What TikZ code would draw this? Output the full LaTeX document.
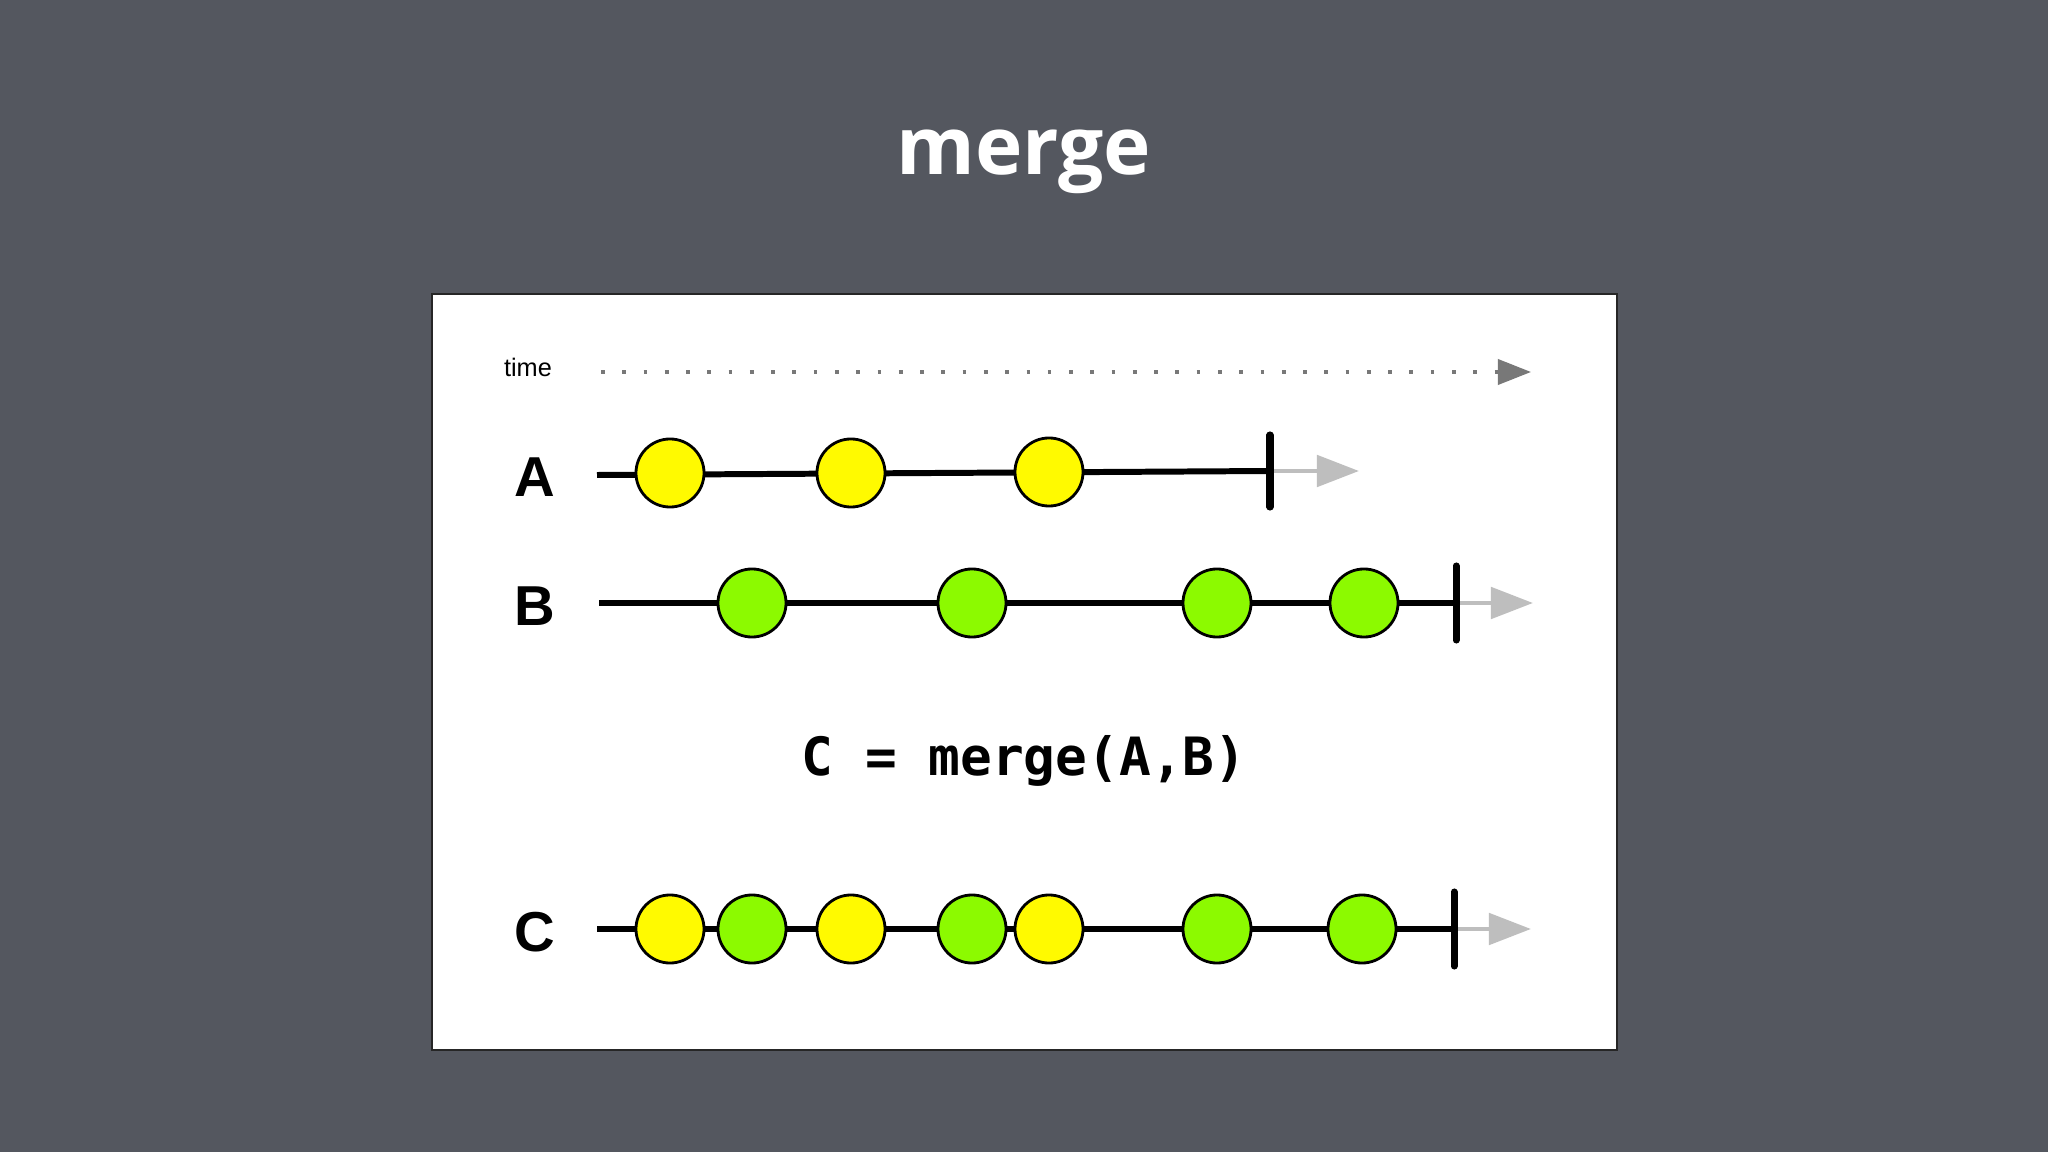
\documentclass[tikz,border=0pt]{standalone}
\usepackage{fontspec}
\setmainfont{Liberation Sans}
\newfontfamily\titlefont{Open Sans}
\newfontfamily\codefont{DejaVu Sans Mono}
\usetikzlibrary{arrows.meta}

\definecolor{slidebg}{RGB}{84,87,95}
\definecolor{marbleyellow}{RGB}{255,250,0}
\definecolor{marblegreen}{RGB}{140,250,0}
\definecolor{timegray}{RGB}{120,120,120}
\definecolor{endgray}{RGB}{190,190,190}

\tikzset{
  yellowmarble/.style={circle, draw=black, line width=0.8pt, fill=marbleyellow, minimum size=0.68cm, inner sep=0pt},
  greenmarble/.style={yellowmarble, fill=marblegreen},
  timeline/.style={line width=1.7pt},
  endtick/.style={line width=2pt, line cap=round},
  afterend/.style={draw=endgray, line width=1.4pt, -{Triangle[length=0.42cm, width=0.31cm, fill=endgray]}},
  rowlabel/.style={anchor=base, font=\bfseries\fontsize{16}{16}\selectfont},
}

\begin{document}
\begin{tikzpicture}[x=0.01cm, y=-0.01cm]
    % Fond
    \fill[slidebg] (0,0) rectangle (2048,1152);
    \useasboundingbox (0,0) rectangle (2048,1152);
    \node[text=white, anchor=base, font=\titlefont\bfseries\fontsize{22.8}{22.8}\selectfont] (title) at (1024,175) {merge};

    % Cadre
    \draw[fill=white, draw=black!85, line width=0.6pt] (432,294) rectangle (1617,1050);

    % Temps
    \node[anchor=base, font=\fontsize{7.2}{7.2}\selectfont] (time) at (528,377) {time};
    \coordinate (t0) at (601,372);
    \coordinate (t1) at (1531,372);
    \draw[timegray, line width=1.05pt, dash pattern=on 1.05pt off 5pt, -{Triangle[length=0.33cm, width=0.25cm]}] (t0) -- (t1);

    % Flux A
    \node[rowlabel] (labA) at (535,497) {A};
    \coordinate (a0) at (597,475);
    \coordinate (aEnd) at (1270,471);
    \coordinate (aTip) at (1359,471);
    \draw[afterend] (aEnd) -- (aTip);
    \draw[timeline] (a0) -- (aEnd);
    \draw[endtick] ([yshift=0.36cm]aEnd) -- ([yshift=-0.36cm]aEnd);
    \node[yellowmarble] (a1) at (670,473) {};
    \node[yellowmarble] (a2) at (851,473) {};
    \node[yellowmarble] (a3) at (1049,472) {};

    % Flux B
    \node[rowlabel] (labB) at (535,626) {B};
    \coordinate (b0) at (599,603);
    \coordinate (bEnd) at (1456,603);
    \coordinate (bTip) at (1533,603);
    \draw[afterend] (bEnd) -- (bTip);
    \draw[timeline] (b0) -- (bEnd);
    \draw[endtick] ([yshift=0.37cm]bEnd) -- ([yshift=-0.37cm]bEnd);
    \node[greenmarble] (b1) at (752,603) {};
    \node[greenmarble] (b2) at (972,603) {};
    \node[greenmarble] (b3) at (1217,603) {};
    \node[greenmarble] (b4) at (1364,603) {};

    % Formule
    \node[anchor=base, font=\codefont\bfseries\fontsize{15}{15}\selectfont] (formula) at (1024,775) {C = merge(A,B)};

    % Flux C
    \node[rowlabel] (labC) at (535,951) {C};
    \coordinate (c0) at (597,929);
    \coordinate (cEnd) at (1454,929);
    \coordinate (cTip) at (1531,929);
    \draw[afterend] (cEnd) -- (cTip);
    \draw[timeline] (c0) -- (cEnd);
    \draw[endtick] ([yshift=0.37cm]cEnd) -- ([yshift=-0.37cm]cEnd);
    \node[yellowmarble] (c1) at (670,929) {};
    \node[greenmarble] (c2) at (752,929) {};
    \node[yellowmarble] (c3) at (851,929) {};
    \node[greenmarble] (c4) at (972,929) {};
    \node[yellowmarble] (c5) at (1049,929) {};
    \node[greenmarble] (c6) at (1217,929) {};
    \node[greenmarble] (c7) at (1362,929) {};
\end{tikzpicture}
\end{document}
